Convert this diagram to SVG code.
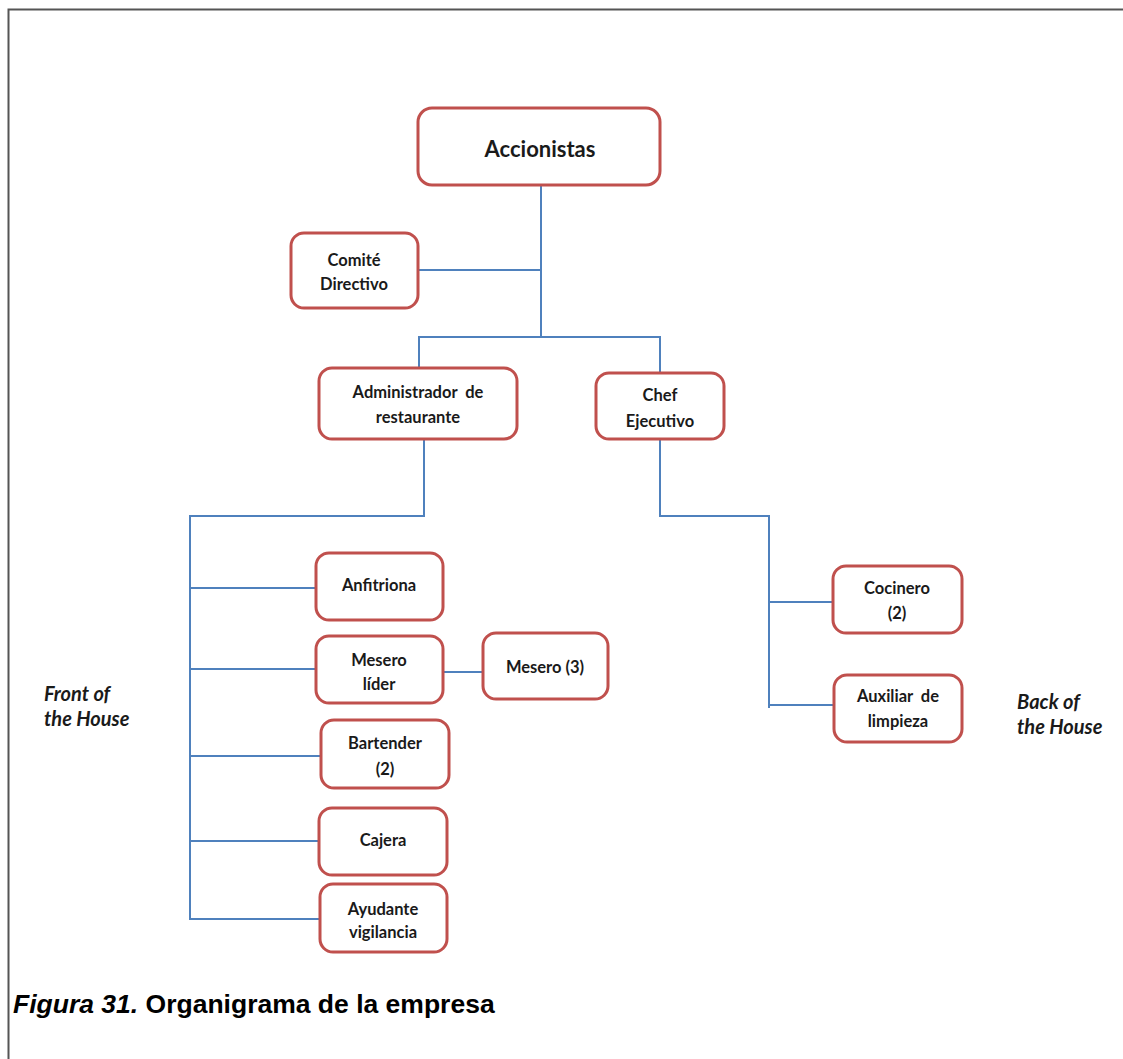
<svg xmlns="http://www.w3.org/2000/svg" width="1123" height="1059" viewBox="0 0 1123 1059">
  <style>
    .box { fill: #ffffff; stroke: #c0504d; stroke-width: 3; }
    .link { fill: none; stroke: #4f81bd; stroke-width: 2; }
    .lbl { font-family: Lato, "Open Sans", "Liberation Sans", sans-serif; font-weight: bold; font-size: 16.5px; fill: #1a1a1a; text-anchor: middle; dominant-baseline: central; }
    .big { font-size: 22px; }
    .side { font-family: Lato, "Open Sans", "Liberation Sans", sans-serif; font-weight: bold; font-style: italic; font-size: 20px; fill: #1a1a1a; dominant-baseline: central; }
    .cap { font-family: "Liberation Sans", Arial, sans-serif; font-weight: bold; font-size: 26.5px; fill: #000000; }
  </style>

  <rect width="1123" height="1059" fill="#ffffff"/>
  <!-- page frame -->
  <path d="M8.5 1059 V9.5 H1123" fill="none" stroke="#555555" stroke-width="2"/>

  <!-- connectors -->
  <g id="connectors">
    <path class="link" d="M541 185 V337"/>
    <path class="link" d="M418 270 H541"/>
    <path class="link" d="M419 368 V337 H660 V373"/>
    <path class="link" d="M424 439 V516 H190 V920"/>
    <path class="link" d="M190 588 H316"/>
    <path class="link" d="M190 669 H316"/>
    <path class="link" d="M443 672 H483"/>
    <path class="link" d="M190 756 H321"/>
    <path class="link" d="M190 841 H319"/>
    <path class="link" d="M190 919 H320"/>
    <path class="link" d="M660 439 V516 H769 V708"/>
    <path class="link" d="M769 602 H833"/>
    <path class="link" d="M769 705 H834"/>
  </g>

  <g id="accionistas">
    <rect class="box" x="418" y="108" width="242" height="77" rx="14"/>
    <text class="lbl big" x="540" y="148">Accionistas</text>
  </g>
  <g id="comite-directivo">
    <rect class="box" x="291" y="233" width="127" height="75" rx="13"/>
    <text class="lbl" x="354" y="260">Comité</text>
    <text class="lbl" x="354" y="284">Directivo</text>
  </g>
  <g id="administrador">
    <rect class="box" x="319" y="368" width="198" height="71" rx="13"/>
    <text class="lbl" x="418" y="392" xml:space="preserve">Administrador  de</text>
    <text class="lbl" x="418" y="417">restaurante</text>
  </g>
  <g id="chef-ejecutivo">
    <rect class="box" x="596" y="373" width="128" height="66" rx="13"/>
    <text class="lbl" x="660" y="395">Chef</text>
    <text class="lbl" x="660" y="421">Ejecutivo</text>
  </g>
  <g id="anfitriona">
    <rect class="box" x="316" y="553" width="127" height="67" rx="13"/>
    <text class="lbl" x="379" y="585">Anfitriona</text>
  </g>
  <g id="mesero-lider">
    <rect class="box" x="316" y="636" width="127" height="67" rx="13"/>
    <text class="lbl" x="379" y="660">Mesero</text>
    <text class="lbl" x="379" y="684">líder</text>
  </g>
  <g id="mesero">
    <rect class="box" x="483" y="633" width="125" height="66" rx="13"/>
    <text class="lbl" x="545" y="667">Mesero (3)</text>
  </g>
  <g id="bartender">
    <rect class="box" x="321" y="720" width="128" height="68" rx="13"/>
    <text class="lbl" x="385" y="743">Bartender</text>
    <text class="lbl" x="385" y="769">(2)</text>
  </g>
  <g id="cajera">
    <rect class="box" x="319" y="808" width="128" height="67" rx="13"/>
    <text class="lbl" x="383" y="840">Cajera</text>
  </g>
  <g id="ayudante">
    <rect class="box" x="320" y="884" width="127" height="68" rx="13"/>
    <text class="lbl" x="383" y="909">Ayudante</text>
    <text class="lbl" x="383" y="932">vigilancia</text>
  </g>
  <g id="cocinero">
    <rect class="box" x="833" y="566" width="129" height="67" rx="13"/>
    <text class="lbl" x="897" y="588">Cocinero</text>
    <text class="lbl" x="897" y="613">(2)</text>
  </g>
  <g id="auxiliar-limpieza">
    <rect class="box" x="834" y="675" width="128" height="67" rx="13"/>
    <text class="lbl" x="898" y="696" xml:space="preserve">Auxiliar  de</text>
    <text class="lbl" x="898" y="721">limpieza</text>
  </g>

  <g id="front-of-house">
    <text class="side" x="44" y="693">Front of</text>
    <text class="side" x="44" y="718">the House</text>
  </g>
  <g id="back-of-house">
    <text class="side" x="1017" y="701">Back of</text>
    <text class="side" x="1017" y="726">the House</text>
  </g>

  <text class="cap" x="13" y="1013"><tspan font-style="italic">Figura 31.</tspan> Organigrama de la empresa</text>
</svg>
